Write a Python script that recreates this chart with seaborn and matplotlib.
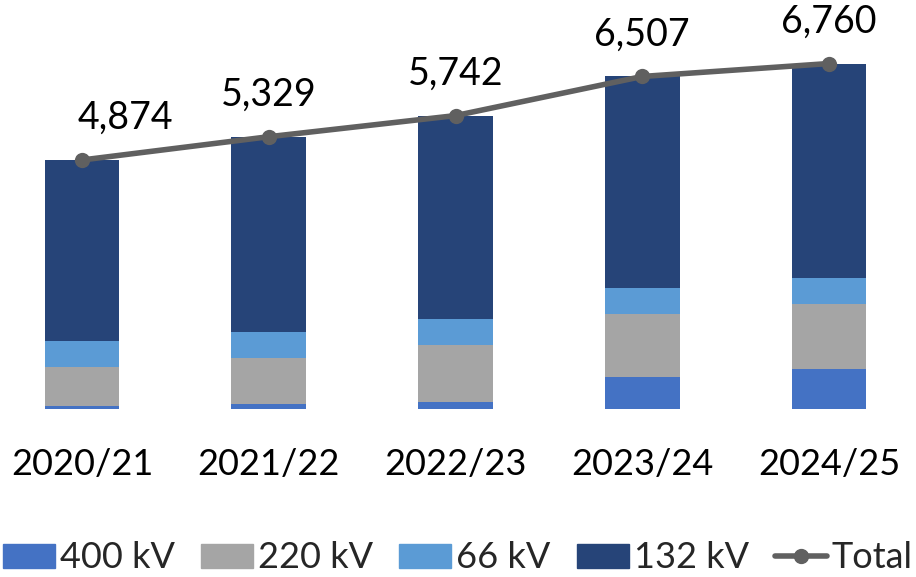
import matplotlib
matplotlib.use("Agg")
import matplotlib.pyplot as plt
import seaborn as sns
import pandas as pd
import numpy as np
from matplotlib.patches import Patch
from matplotlib.lines import Line2D

years = ["2020/21", "2021/22", "2022/23", "2023/24", "2024/25"]
kv400 = [70, 98, 149, 637, 782]
kv220 = [752, 899, 1108, 1220, 1271]
kv66 = [512, 512, 512, 512, 512]
kv132 = [3540, 3820, 3973, 4138, 4195]
total = [4874, 5329, 5742, 6507, 6760]

c400, c220, c66, c132 = "#4472C4", "#A5A5A5", "#5B9BD5", "#264478"
cline = "#606060"

sns.set_theme(style="white")
plt.rcParams['font.family'] = ['Lato', 'DejaVu Sans']

df = pd.DataFrame({"year": years, "kv400": kv400, "kv220": kv220,
                   "kv66": kv66, "kv132": kv132, "total": total})
df["c400"] = df["kv400"]
df["c220"] = df["c400"] + df["kv220"]
df["c66"] = df["c220"] + df["kv66"]
df["c132"] = df["c66"] + df["kv132"]

fig = plt.figure(figsize=(9.16, 5.77), dpi=100)
ax = fig.add_axes([0, (577 - 409.3) / 577, 1, 409.3 / 577])

for col, color in [("c132", c132), ("c66", c66), ("c220", c220), ("c400", c400)]:
    sns.barplot(data=df, x="year", y=col, color=color, width=0.4,
                saturation=1, ax=ax, linewidth=0)

sns.lineplot(x=np.arange(len(years)), y=df["total"], ax=ax, color=cline,
             linewidth=4, marker="o", markersize=11, markeredgewidth=0)

scale = 0.05115
for i, v in enumerate(total):
    dx = 0.23 if i == 0 else 0
    ax.text(i + dx, v + 42 / scale, f"{v:,}", ha="center", va="center",
            fontsize=27, color="black")

ax.set_xlim(-82 / 186.75, (916 - 82) / 186.75)
ax.set_ylim(0, 409.3 / scale)
ax.set_xlabel("")
ax.set_ylabel("")
ax.set_yticks([])
ax.tick_params(axis="x", length=0, pad=28, labelsize=26, colors="black")
for s in ax.spines.values():
    s.set_visible(False)

handles = [Patch(color=c400, label="400 kV"), Patch(color=c220, label="220 kV"),
           Patch(color=c66, label="66 kV"), Patch(color=c132, label="132 kV"),
           Line2D([0], [0], color=cline, lw=4, marker="o", markersize=10, label="Total")]
fig.legend(handles=handles, loc="center", bbox_to_anchor=(0.5, 1 - 558 / 577),
           ncol=5, frameon=False, fontsize=26, handlelength=1.44, handleheight=0.67,
           handletextpad=0.14, columnspacing=0.72, borderaxespad=0, borderpad=0)

fig.savefig("out.png", dpi=100)
